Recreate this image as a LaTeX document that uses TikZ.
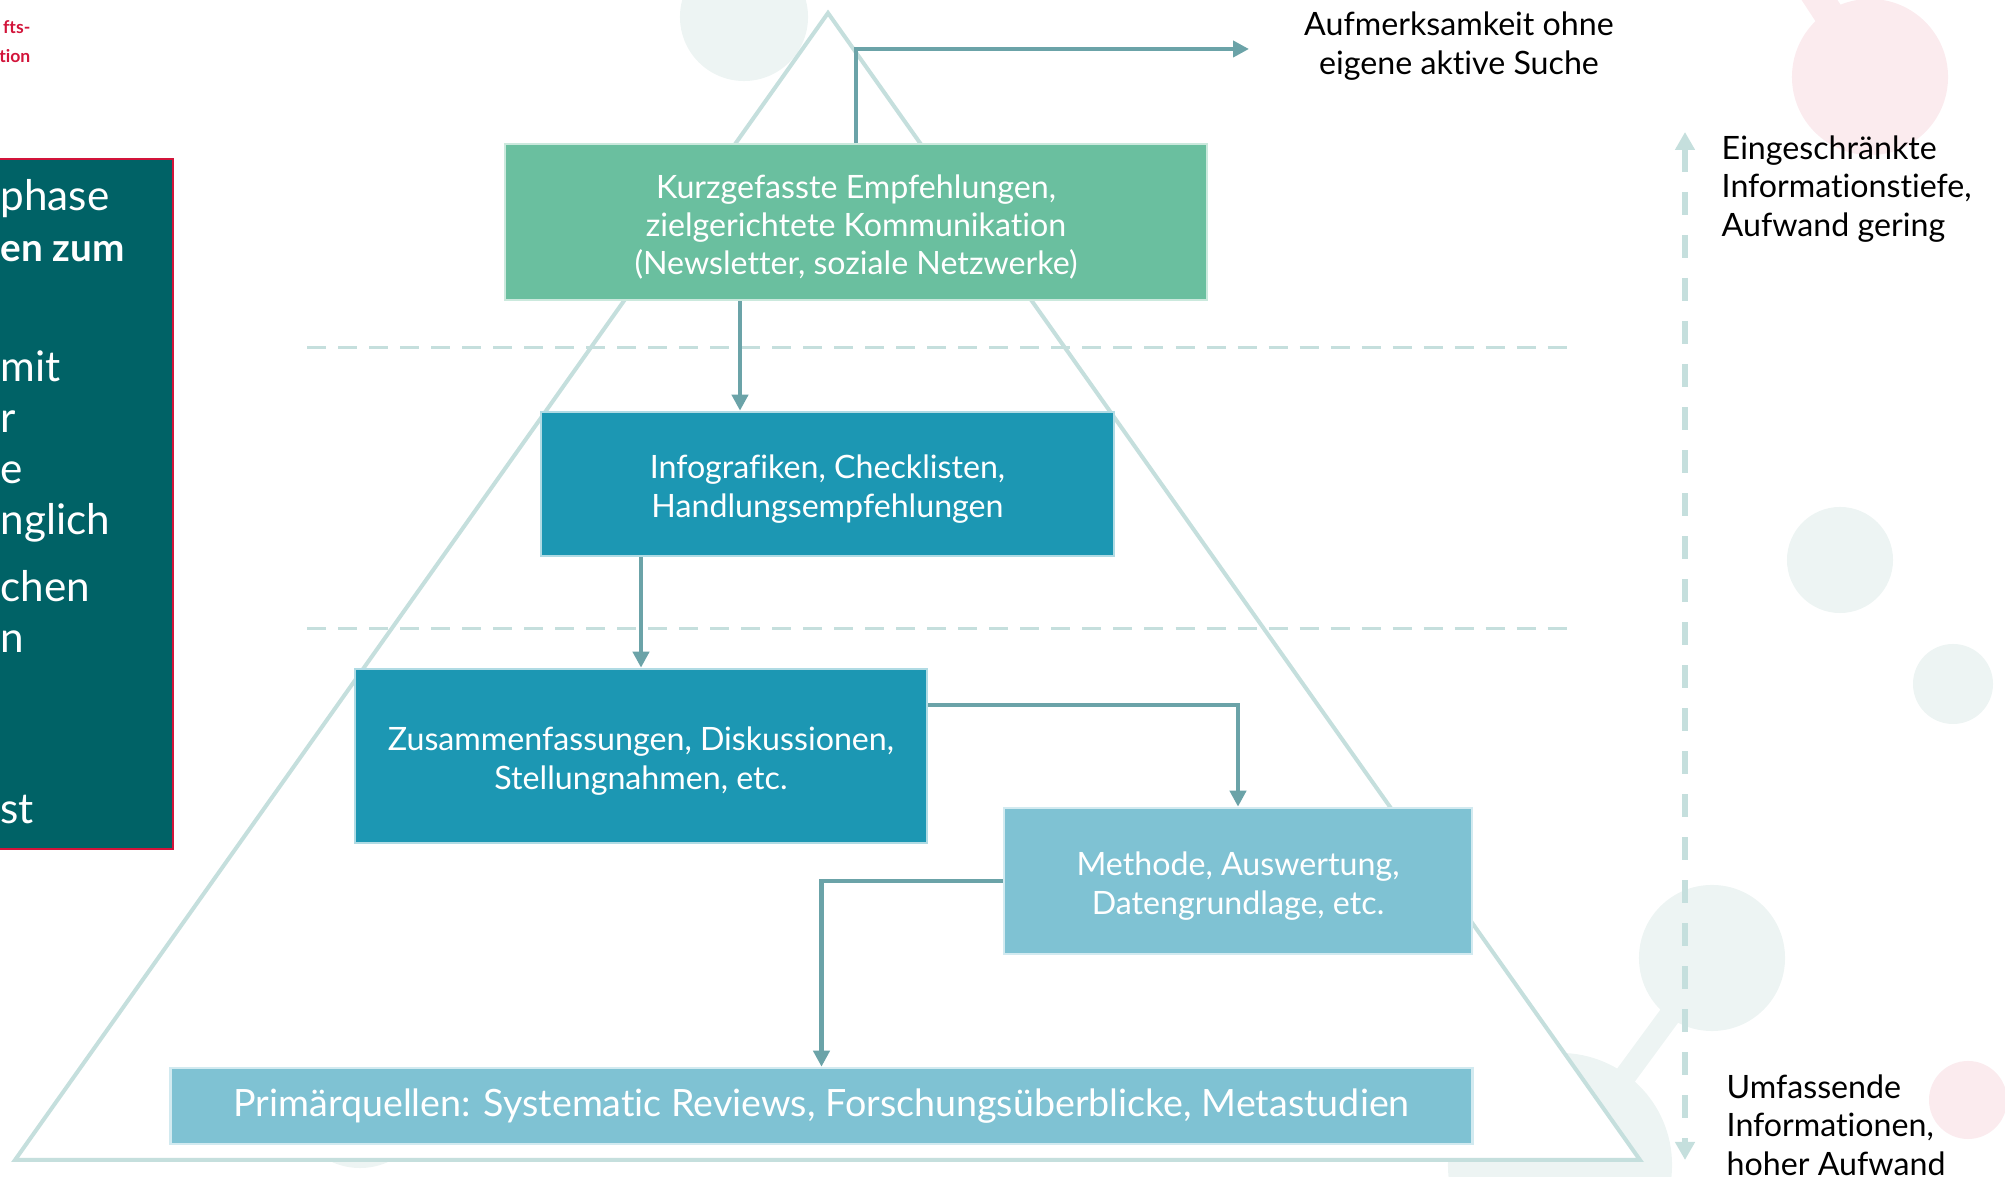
\documentclass[tikz,border=0pt]{standalone}
\usepackage{fontspec}
\setmainfont{Lato}[Ligatures=NoCommon]
\usetikzlibrary{arrows.meta,positioning}

\definecolor{boxgreen}{HTML}{6ABF9F}
\definecolor{boxteal}{HTML}{1C97B3}
\definecolor{boxlight}{HTML}{7FC2D3}
\definecolor{panelteal}{HTML}{006266}
\definecolor{flowline}{HTML}{6BA3A8}
\definecolor{pyramid}{HTML}{C5DFDD}
\definecolor{dotteal}{HTML}{EDF4F3}
\definecolor{dotpink}{HTML}{FBEBEE}
\definecolor{logored}{HTML}{D2143A}

\newcommand{\boxlift}{\rule{0pt}{9.6pt}}

\begin{document}
\begin{tikzpicture}
	[
		x=0.01cm, y=-0.01cm,
		greennode/.style={rectangle, draw=white!65!boxgreen, fill=boxgreen, line width=0.025cm, inner sep=0pt, text=white, align=center, font=\fontsize{9.15}{10.9}\selectfont},
		tealnode/.style={greennode, draw=white!65!boxteal, fill=boxteal},
		lightnode/.style={greennode, draw=white!65!boxlight, fill=boxlight},
		notenode/.style={align=left, text=black, inner sep=0pt, font=\fontsize{9.15}{10.9}\selectfont},
		panelnode/.style={anchor=west, align=left, text=white, inner sep=0pt, font=\fontsize{12}{14.5}\selectfont},
		flow/.style={draw=flowline, line width=0.045cm, -{Triangle[length=0.16cm, width=0.16cm]}},
		levelline/.style={draw=pyramid, line width=0.03cm, dash pattern=on 0.19cm off 0.12cm},
		scaleaxis/.style={draw=pyramid, line width=0.065cm, dash pattern=on 0.23cm off 0.2cm, {Triangle[length=0.18cm, width=0.19cm]}-{Triangle[length=0.18cm, width=0.19cm]}},
	]
	\useasboundingbox (0,0) rectangle (2005,1177);

	% background dots
	\draw[dotpink, line width=0.3cm] (1870,77) -- (1790,-45);
	\fill[dotpink] (1870,77) circle (0.78cm);
	\fill[dotpink] (1968,1100) circle (0.39cm);
	\fill[dotteal] (744,17) circle (0.64cm);
	\fill[dotteal] (1840,560) circle (0.53cm);
	\fill[dotteal] (1953,684) circle (0.40cm);
	\draw[dotteal, line width=0.22cm] (1712,958) -- (1560,1165);
	\fill[dotteal] (1712,958) circle (0.73cm);
	\fill[dotteal] (1560,1165) circle (1.12cm);
	\fill[dotteal] (360,1100) circle (0.68cm);

	% pyramid
	\coordinate (apex) at (828,13);
	\coordinate (baseleft) at (15,1160);
	\coordinate (baseright) at (1640,1160);
	\draw[pyramid, fill=white, line width=0.04cm] (apex) -- (baseleft) -- (baseright) -- cycle;

	\coordinate (lvlAleft) at (307,348);
	\coordinate (lvlAright) at (1578,348);
	\coordinate (lvlBleft) at (307,629);
	\coordinate (lvlBright) at (1578,629);
	\draw[levelline] (lvlAleft) -- (lvlAright);
	\draw[levelline] (lvlBleft) -- (lvlBright);

	% left panel
	\draw[fill=panelteal, draw=logored, line width=0.02cm] (-10,159) rectangle (173,849);
	\node[panelnode] (panelA) at (0,221) {phase\\{\fontsize{11}{14.5}\selectfont\bfseries en zum}};
	\node[panelnode] (panelB) at (0,446) {mit\\r\\e\\nglich};
	\node[panelnode] (panelC) at (0,611) {chen\\n};
	\node[panelnode] (panelD) at (0,810) {st};
	\node[anchor=east, align=right, inner sep=0pt, text=logored, font=\fontsize{5}{8.25}\selectfont\bfseries] (logo) at (31,42) {fts-\\tion};

	% boxes
	\node[greennode, minimum width=7.02cm, minimum height=1.56cm] (kurz) at (856,222) {\boxlift Kurzgefasste Empfehlungen,\\zielgerichtete Kommunikation\\(Newsletter, soziale Netzwerke)};
	\node[tealnode, minimum width=5.73cm, minimum height=1.44cm] (info) at (827.5,484) {\boxlift Infografiken, Checklisten,\\Handlungsempfehlungen};
	\node[tealnode, minimum width=5.72cm, minimum height=1.74cm] (zus) at (641,756) {\boxlift Zusammenfassungen, Diskussionen,\\Stellungnahmen, etc.};
	\node[lightnode, minimum width=4.68cm, minimum height=1.46cm] (meth) at (1238,881) {\boxlift Methode, Auswertung,\\Datengrundlage, etc.};
	\node[lightnode, minimum width=13.01cm, minimum height=0.76cm, font=\fontsize{10.7}{13}\selectfont] (prim) at (821.5,1106) {Primärquellen: Systematic Reviews, Forschungsüberblicke, Metastudien};

	% connectors
	\coordinate (attn) at (1249,49);
	\draw[flow] (kurz.north) |- (attn);
	\draw[flow] (740,0 |- kurz.south) -- (740,0 |- info.north);
	\draw[flow] (info.south -| zus.north) -- (zus.north);
	\draw[flow] (zus.east |- 0,705) -| (meth.north);
	\draw[flow] (meth.west) -| (prim.north);

	\node[notenode, align=center] (attntext) at (1459,46) {Aufmerksamkeit ohne\\eigene aktive Suche};

	% scale on the right
	\coordinate (axtop) at (1685,132);
	\coordinate (axbot) at (1685,1160);
	\draw[scaleaxis] (axtop) -- (axbot);
	\node[notenode, anchor=west] (shallow) at (1721,189) {Eingeschränkte\\Informationstiefe,\\Aufwand gering};
	\node[notenode, anchor=west] (deep) at (1726,1125) {Umfassende\\Informationen,\\hoher Aufwand};
\end{tikzpicture}
\end{document}
